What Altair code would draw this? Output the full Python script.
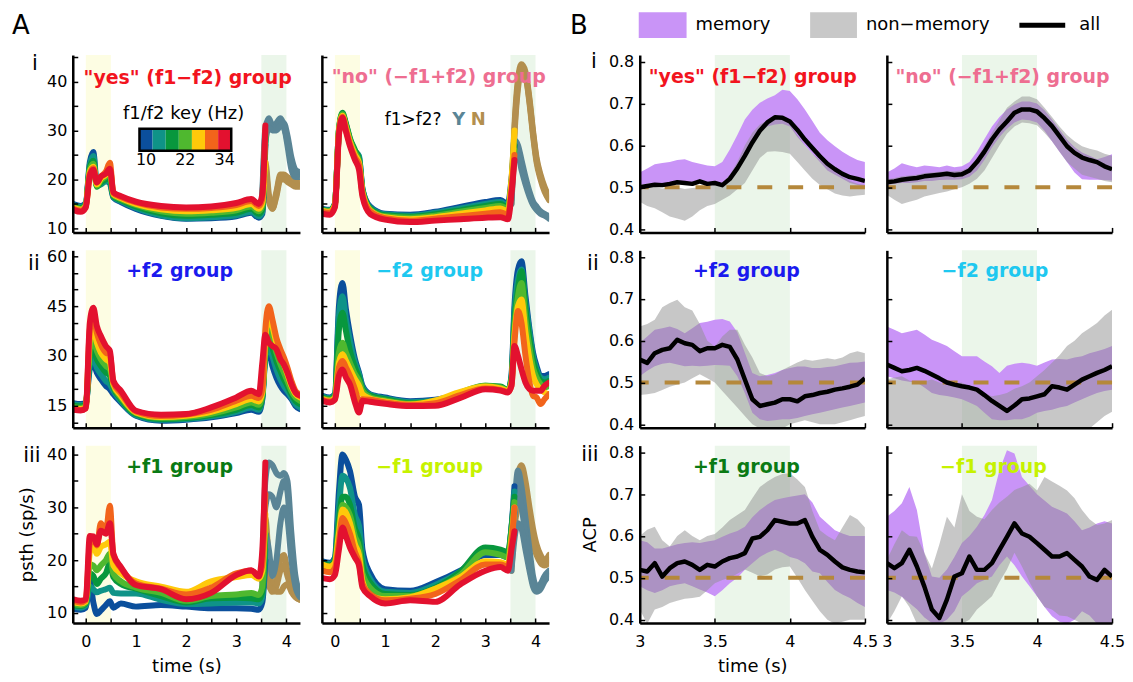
import altair as alt
import pandas as pd

FONT = "DejaVu Sans"
W_A, W_B, H = 228, 226, 178

# ---------------- time grids ----------------
T_PRE = [-0.25, -0.1, 0.0, 0.08, 0.15, 0.22, 0.3, 0.4, 0.48, 0.55, 0.7, 1.0, 1.5, 2.0, 2.5, 3.0, 3.3, 3.45, 3.52]
T_RISE = [3.58]
T_POST = [3.52, 3.58, 3.65, 3.72, 3.8, 3.88, 3.95, 4.02, 4.1, 4.18, 4.27]
T_B = [3.0, 3.05, 3.1, 3.15, 3.2, 3.25, 3.3, 3.35, 3.4, 3.45, 3.5, 3.55, 3.6, 3.65, 3.7, 3.75,
       3.8, 3.85, 3.9, 3.95, 4.0, 4.05, 4.1, 4.15, 4.2, 4.25, 4.3, 4.35, 4.4, 4.45, 4.5]

KEY_HZ = [10, 14, 18, 22, 26, 30, 34]
KEY_LABELS = ["10", "", "", "22", "", "", "34"]
KEY_COLORS = ["#0b4f9c", "#0f9388", "#08973d", "#4fb82f", "#ffc90a", "#f2641b", "#e3112f"]
Y_COLOR = "#5a8596"
N_COLOR = "#b38f4e"

# ---------------- panel A data (psth, sp/s) ----------------
A_YES_KEY = [
    [15.0, 14.6, 15.2, 23.5, 25.6, 19.0, 19.2, 19.8, 19.2, 16.3, 15.4, 14.0, 12.6, 12.0, 12.1, 12.5, 13.2, 12.2, 13.0, 27.0],
    [14.8, 14.4, 15.0, 23.0, 24.8, 18.8, 19.0, 19.6, 19.6, 16.4, 15.6, 14.2, 12.7, 12.1, 12.3, 12.7, 13.4, 12.5, 13.4, 28.0],
    [14.6, 14.2, 14.9, 22.4, 23.8, 18.5, 19.4, 20.0, 20.4, 16.6, 15.8, 14.5, 13.1, 12.6, 12.8, 13.2, 14.0, 13.0, 14.0, 28.5],
    [14.4, 14.0, 14.8, 22.0, 23.2, 18.7, 19.8, 20.6, 21.2, 16.8, 16.0, 14.8, 13.5, 13.0, 13.2, 13.7, 14.5, 13.5, 14.6, 29.0],
    [14.2, 13.8, 14.6, 21.6, 22.6, 19.0, 20.2, 21.0, 22.4, 17.0, 16.2, 15.0, 13.9, 13.5, 13.7, 14.2, 15.0, 14.0, 15.2, 23.5],
    [14.0, 13.6, 14.5, 21.2, 22.3, 19.4, 20.6, 21.6, 23.4, 17.2, 16.4, 15.3, 14.3, 14.0, 14.2, 14.8, 15.6, 14.6, 16.0, 30.0],
    [13.8, 13.4, 14.3, 20.8, 22.0, 19.4, 20.6, 21.2, 22.2, 17.4, 16.6, 15.5, 14.6, 14.3, 14.5, 15.2, 16.0, 15.0, 17.0, 31.0],
]
A_YES_Y = [
    [17.0, 30.5, 32.5, 31.0, 31.5, 32.5, 31.0, 27.0, 22.0, 20.5, 20.5],
    [16.0, 29.0, 31.5, 30.5, 30.5, 31.8, 30.5, 28.0, 23.0, 21.0, 21.0],
    [15.0, 27.5, 30.5, 30.0, 30.0, 31.0, 31.5, 29.0, 24.5, 22.0, 21.5],
]
A_YES_N = [
    [17.0, 23.5, 17.0, 14.0, 17.0, 20.5, 20.5, 20.0, 19.5, 19.0, 19.0],
    [16.0, 22.5, 16.0, 14.5, 17.5, 21.0, 21.0, 20.5, 20.0, 19.5, 19.5],
    [15.0, 21.0, 15.5, 14.0, 16.5, 20.0, 20.0, 19.5, 19.0, 18.5, 18.5],
]

A_NO_KEY = [
    [14.0, 13.8, 15.0, 29.5, 33.0, 31.0, 28.0, 25.5, 24.5, 18.0, 14.5, 13.0, 12.8, 13.4, 14.4, 15.4, 15.8, 15.0, 20.0, 27.0],
    [13.9, 13.7, 15.0, 30.0, 33.3, 31.2, 28.2, 25.8, 24.8, 18.0, 14.3, 12.9, 12.6, 13.2, 14.1, 15.0, 15.4, 14.7, 19.5, 28.0],
    [13.8, 13.6, 15.0, 30.2, 33.6, 31.4, 28.4, 26.0, 24.0, 17.8, 14.1, 12.7, 12.4, 12.9, 13.7, 14.6, 15.0, 14.3, 19.0, 27.0],
    [13.7, 13.5, 14.9, 30.0, 33.3, 31.0, 28.0, 25.5, 23.8, 17.5, 13.9, 12.5, 12.2, 12.6, 13.4, 14.2, 14.6, 14.0, 19.0, 26.0],
    [13.6, 13.4, 14.8, 29.8, 33.0, 30.6, 27.6, 25.0, 23.4, 17.3, 13.7, 12.3, 11.9, 12.3, 13.0, 13.7, 14.1, 13.5, 20.0, 30.0],
    [13.4, 13.2, 14.6, 29.5, 32.8, 30.2, 27.2, 24.5, 23.0, 17.0, 13.5, 12.1, 11.6, 12.0, 12.5, 13.0, 13.3, 12.8, 18.0, 25.0],
    [13.0, 12.8, 14.3, 29.0, 32.6, 29.8, 26.8, 24.0, 22.0, 16.5, 13.0, 11.8, 11.3, 11.6, 11.9, 12.2, 12.3, 11.9, 17.0, 24.0],
]
A_NO_Y = [
    [17.0, 28.0, 27.0, 24.0, 20.5, 17.5, 15.5, 14.5, 13.5, 13.0, 12.5],
    [16.0, 26.0, 25.5, 23.0, 19.5, 17.0, 15.0, 14.0, 13.2, 12.8, 12.3],
    [15.0, 24.0, 25.0, 22.0, 19.0, 16.5, 14.8, 13.8, 13.0, 12.6, 12.0],
]
A_NO_N = [
    [17.0, 31.0, 40.5, 43.5, 42.0, 36.5, 30.0, 24.5, 21.0, 18.5, 16.5],
    [16.0, 30.0, 39.5, 43.0, 41.5, 36.0, 29.5, 24.0, 20.5, 18.0, 16.0],
    [15.0, 29.0, 38.5, 42.0, 41.0, 35.5, 29.0, 23.5, 20.0, 17.5, 15.8],
]

A_PF2_KEY = [
    [15.8, 15.5, 15.8, 26.0, 27.5, 25.0, 23.0, 21.0, 20.0, 18.5, 16.0, 12.0, 10.5, 10.8, 11.5, 12.8, 13.8, 13.2, 17.0, 29.0, 31.0, 27.0, 23.5, 21.0, 19.5, 18.5, 17.0, 15.0, 14.0],
    [15.5, 15.2, 15.6, 27.5, 29.0, 26.5, 24.5, 22.5, 21.5, 19.5, 16.5, 12.2, 10.8, 11.0, 11.8, 13.2, 14.5, 13.8, 17.5, 30.0, 33.0, 30.0, 26.0, 23.0, 21.0, 19.5, 17.5, 15.5, 14.5],
    [15.0, 14.8, 15.3, 30.0, 32.0, 29.0, 27.0, 25.0, 24.0, 20.5, 17.0, 12.5, 11.0, 11.3, 12.2, 13.8, 15.2, 14.5, 18.0, 31.0, 35.0, 32.5, 28.5, 25.5, 23.0, 21.0, 18.5, 16.5, 15.5],
    [14.6, 14.4, 15.0, 32.0, 35.0, 31.5, 29.0, 27.0, 26.0, 21.0, 17.5, 12.8, 11.3, 11.6, 12.6, 14.5, 16.0, 15.3, 18.5, 32.0, 38.0, 35.5, 31.0, 27.5, 25.0, 22.5, 19.5, 17.5, 16.5],
    [14.2, 14.0, 14.6, 35.0, 38.0, 34.0, 31.0, 29.0, 28.0, 21.5, 18.0, 13.0, 11.6, 12.0, 13.2, 15.5, 17.0, 16.3, 19.0, 35.0, 42.0, 39.0, 34.0, 30.5, 27.5, 24.5, 21.0, 18.5, 17.5],
    [13.9, 13.7, 14.3, 38.0, 42.0, 37.0, 33.5, 31.0, 30.5, 22.0, 18.8, 13.3, 11.9, 12.4, 13.8, 16.5, 18.0, 17.3, 20.0, 38.0, 45.0, 41.0, 35.5, 32.0, 29.5, 26.5, 22.5, 19.5, 18.5],
    [13.8, 13.6, 14.2, 40.0, 44.5, 39.0, 36.0, 33.0, 31.5, 22.5, 19.5, 13.5, 12.3, 12.5, 14.5, 17.5, 19.5, 18.5, 28.0, 36.4, 34.0, 33.0, 32.0, 29.0, 27.4, 25.0, 21.5, 19.0, 18.0],
]

A_MF2_KEY = [
    [18.0, 17.5, 18.5, 45.0, 52.0, 44.0, 36.5, 29.0, 25.0, 21.0, 18.5, 17.5, 16.4, 16.8, 18.5, 20.5, 20.5, 19.5, 24.0, 45.0, 56.0, 58.5, 48.0, 38.0, 31.0, 27.0, 24.0, 24.0, 24.5],
    [17.8, 17.3, 18.2, 42.0, 48.0, 41.0, 34.5, 28.0, 24.5, 20.5, 18.3, 17.2, 16.1, 16.5, 18.3, 20.4, 20.4, 19.5, 23.5, 43.0, 53.0, 56.0, 46.0, 37.0, 30.0, 26.0, 23.5, 23.0, 23.5],
    [17.5, 17.0, 18.0, 38.0, 43.0, 37.5, 31.5, 26.5, 23.5, 20.0, 18.0, 17.0, 15.8, 16.3, 18.8, 21.0, 20.8, 19.8, 23.0, 40.0, 50.0, 55.5, 44.0, 35.0, 28.5, 25.0, 22.5, 22.0, 22.5],
    [17.2, 16.8, 17.6, 31.0, 34.0, 31.0, 28.0, 24.5, 22.5, 19.5, 17.6, 16.6, 15.6, 16.4, 19.0, 21.0, 20.5, 19.6, 22.5, 38.0, 48.0, 52.0, 41.0, 32.5, 26.5, 23.5, 21.5, 20.5, 21.0],
    [17.0, 16.5, 17.3, 28.0, 30.5, 28.5, 26.0, 23.0, 21.0, 18.5, 17.2, 16.3, 15.4, 16.6, 19.2, 20.8, 20.2, 19.5, 22.0, 36.0, 45.0, 47.0, 37.0, 29.0, 24.0, 21.5, 20.0, 19.0, 18.5],
    [16.8, 16.3, 17.0, 26.5, 28.5, 26.5, 24.0, 20.0, 16.5, 17.0, 16.8, 16.0, 15.2, 15.8, 18.2, 20.2, 19.8, 19.2, 21.0, 34.0, 43.5, 40.0, 30.0, 22.0, 18.0, 17.5, 15.5, 17.0, 18.5],
    [16.5, 16.0, 16.8, 24.0, 25.9, 23.5, 21.4, 16.0, 13.0, 16.5, 16.2, 15.6, 14.9, 15.0, 17.4, 20.0, 19.6, 19.0, 21.0, 33.0, 30.0, 26.0, 22.0, 20.0, 19.5, 19.5, 19.5, 21.0, 22.0],
]

A_PF1_KEY = [
    [10.8, 10.6, 11.0, 16.0, 12.0, 9.8, 10.5, 11.5, 12.2, 11.0, 11.8, 11.2, 11.5, 11.2, 10.9, 10.9, 10.8, 10.6, 12.0, 20.0],
    [11.2, 11.0, 11.4, 15.0, 14.5, 13.9, 14.2, 14.5, 14.8, 13.8, 13.7, 13.7, 12.5, 11.7, 11.8, 12.0, 12.0, 11.8, 13.0, 22.0],
    [11.5, 11.3, 11.8, 17.5, 17.0, 15.5, 16.5, 17.5, 19.4, 16.8, 15.5, 14.6, 13.2, 12.0, 12.8, 12.9, 12.8, 12.6, 14.0, 25.0],
    [11.7, 11.5, 12.0, 19.2, 19.0, 18.1, 19.0, 20.0, 21.2, 17.5, 16.0, 14.8, 13.8, 12.3, 13.2, 13.5, 13.8, 13.4, 15.0, 27.0],
    [12.0, 11.8, 12.2, 21.5, 23.0, 21.2, 22.5, 23.0, 23.5, 19.0, 17.5, 16.0, 15.0, 14.0, 16.0, 16.8, 17.2, 16.5, 18.0, 28.7],
    [12.3, 12.0, 12.4, 23.0, 24.0, 22.8, 27.0, 25.5, 30.3, 21.0, 18.5, 15.6, 14.6, 13.5, 14.8, 17.5, 18.0, 17.2, 19.0, 32.5],
    [12.6, 12.3, 12.6, 24.6, 24.5, 23.0, 25.6, 25.0, 27.0, 21.2, 18.7, 15.3, 14.5, 12.6, 13.8, 17.2, 18.1, 16.9, 22.0, 38.5],
]
A_PF1_Y = [
    [18.0, 35.0, 38.5, 38.0, 36.5, 36.0, 36.5, 35.0, 25.0, 17.0, 14.0],
    [16.0, 30.0, 32.5, 32.0, 30.0, 33.0, 35.0, 33.0, 22.0, 16.0, 14.0],
    [14.0, 25.0, 22.0, 17.0, 20.0, 27.0, 30.0, 28.0, 20.0, 15.0, 13.0],
]
A_PF1_N = [
    [17.0, 28.0, 20.0, 15.0, 16.0, 20.0, 21.0, 18.0, 15.0, 14.0, 13.0],
    [15.0, 22.0, 16.0, 14.0, 15.0, 18.0, 19.0, 17.0, 14.5, 13.0, 12.5],
    [13.0, 18.0, 15.0, 14.5, 14.0, 14.0, 15.0, 15.5, 14.0, 13.0, 12.5],
]

A_MF1_KEY = [
    [19.8, 19.5, 20.5, 33.0, 40.0, 39.0, 36.9, 32.0, 30.5, 22.0, 17.5, 14.5, 14.2, 15.8, 18.0, 21.0, 21.0, 20.5, 26.0, 34.0],
    [19.6, 19.3, 20.2, 30.0, 36.0, 35.5, 33.7, 28.5, 26.5, 20.5, 16.5, 14.0, 13.8, 15.3, 17.8, 21.5, 21.5, 21.0, 26.0, 33.0],
    [19.3, 19.0, 20.0, 27.5, 32.0, 32.0, 30.5, 26.0, 24.0, 19.0, 15.8, 13.6, 13.4, 14.8, 17.8, 22.4, 22.0, 21.5, 26.0, 32.0],
    [19.0, 18.7, 19.6, 26.0, 30.5, 30.0, 28.5, 24.5, 22.5, 17.5, 14.8, 13.2, 13.2, 14.6, 17.2, 21.5, 21.0, 20.5, 25.0, 31.0],
    [19.2, 18.8, 19.5, 25.0, 29.6, 29.0, 27.0, 23.0, 21.0, 16.0, 13.4, 12.6, 13.0, 14.6, 16.8, 19.8, 19.6, 19.2, 24.0, 30.0],
    [18.0, 17.7, 18.5, 23.5, 28.0, 27.0, 25.0, 21.5, 19.5, 15.5, 13.6, 12.4, 12.7, 13.6, 16.2, 19.2, 19.2, 18.8, 23.0, 30.0],
    [16.6, 16.4, 17.2, 22.0, 26.2, 24.5, 22.4, 20.5, 19.0, 14.8, 13.2, 11.8, 12.4, 12.1, 15.4, 18.0, 18.7, 18.0, 22.0, 25.5],
]
A_MF1_Y = [
    [20.0, 30.0, 37.0, 34.0, 28.0, 22.0, 17.0, 15.0, 15.5, 17.0, 18.0],
    [19.0, 28.0, 33.0, 30.0, 25.0, 19.0, 15.5, 14.5, 15.0, 16.5, 17.5],
    [18.0, 24.0, 27.0, 26.0, 22.0, 18.0, 15.0, 14.0, 14.5, 16.0, 17.0],
]
A_MF1_N = [
    [20.0, 30.0, 36.0, 38.0, 35.0, 30.0, 26.0, 23.0, 21.0, 20.0, 21.0],
    [19.0, 28.0, 33.0, 34.0, 32.0, 28.0, 25.0, 22.0, 20.5, 19.5, 20.0],
    [18.0, 26.0, 30.0, 31.0, 29.0, 26.0, 23.0, 21.0, 19.5, 19.0, 19.5],
]

# ---------------- panel B data (ACP) ----------------
B_YES_ALL = [.500, .503, .506, .505, .508, .512, .510, .508, .514, .508, .510, .505, .520, .545, .575, .607, .635, .655, .667, .666, .657, .637, .614, .594, .574, .556, .543, .532, .524, .520, .515]
B_YES_MEM_HI = [.535, .545, .555, .558, .560, .565, .567, .560, .556, .552, .550, .560, .590, .625, .662, .685, .702, .712, .720, .733, .730, .710, .686, .658, .630, .612, .598, .585, .574, .565, .560]
B_YES_MEM_LO = [.505, .508, .510, .508, .512, .515, .512, .510, .515, .510, .508, .505, .520, .545, .575, .605, .630, .645, .650, .652, .645, .620, .600, .580, .560, .540, .530, .520, .510, .505, .500]
B_YES_NON_HI = [.500, .498, .500, .497, .498, .500, .496, .498, .500, .502, .505, .510, .530, .560, .600, .630, .650, .660, .665, .662, .650, .625, .600, .580, .565, .550, .535, .525, .515, .508, .505]
B_YES_NON_LO = [.465, .455, .450, .440, .430, .425, .420, .430, .445, .455, .460, .470, .480, .495, .510, .540, .570, .585, .586, .584, .580, .560, .540, .520, .505, .495, .485, .480, .478, .480, .482]

B_NO_ALL = [.512, .514, .518, .520, .522, .526, .528, .530, .532, .529, .531, .540, .560, .585, .614, .638, .657, .678, .686, .686, .681, .665, .646, .622, .598, .582, .571, .565, .560, .550, .543]
B_NO_MEM_HI = [.535, .545, .557, .552, .548, .552, .550, .548, .552, .548, .550, .560, .585, .615, .645, .668, .686, .698, .705, .705, .700, .684, .662, .638, .614, .596, .583, .575, .567, .572, .579]
B_NO_MEM_LO = [.505, .508, .510, .510, .512, .515, .515, .517, .518, .518, .519, .525, .540, .565, .595, .620, .640, .655, .662, .660, .655, .635, .610, .585, .560, .535, .519, .518, .518, .517, .516]
B_NO_NON_HI = [.519, .522, .526, .528, .530, .534, .535, .537, .538, .538, .540, .548, .570, .600, .630, .660, .690, .705, .717, .717, .710, .690, .668, .645, .625, .610, .598, .592, .588, .580, .575]
B_NO_NON_LO = [.482, .470, .460, .465, .470, .478, .482, .486, .490, .495, .500, .508, .520, .540, .570, .600, .628, .645, .655, .653, .648, .630, .610, .585, .560, .545, .530, .525, .520, .515, .512]

B_PF2_ALL = [.555, .547, .570, .578, .582, .602, .594, .590, .575, .582, .582, .590, .585, .555, .507, .460, .444, .448, .452, .460, .460, .455, .467, .470, .475, .478, .483, .486, .490, .495, .510]
B_PF2_MEM_HI = [.595, .610, .626, .630, .634, .628, .618, .630, .642, .645, .650, .652, .646, .620, .571, .523, .515, .518, .523, .530, .535, .538, .538, .535, .535, .537, .539, .543, .547, .548, .550]
B_PF2_MEM_LO = [.515, .528, .539, .545, .547, .543, .539, .540, .539, .540, .542, .541, .540, .515, .475, .428, .412, .408, .410, .412, .412, .415, .420, .424, .428, .432, .436, .440, .444, .448, .452]
B_PF2_NON_HI = [.634, .640, .650, .680, .690, .698, .680, .672, .640, .600, .586, .610, .626, .626, .590, .560, .523, .515, .520, .530, .539, .548, .555, .552, .555, .558, .555, .560, .570, .575, .570]
B_PF2_NON_LO = [.470, .472, .475, .482, .490, .495, .500, .510, .520, .510, .500, .480, .460, .440, .420, .400, .390, .385, .385, .390, .400, .405, .410, .405, .400, .400, .400, .405, .410, .415, .420]

B_MF2_ALL = [.543, .535, .527, .530, .535, .528, .519, .510, .500, .495, .491, .488, .483, .470, .456, .444, .432, .445, .460, .462, .467, .472, .491, .488, .483, .495, .507, .515, .523, .530, .539]
B_MF2_MEM_HI = [.634, .626, .618, .622, .626, .615, .602, .595, .587, .575, .563, .563, .563, .550, .539, .523, .540, .545, .547, .545, .540, .548, .555, .556, .555, .560, .563, .570, .575, .580, .587]
B_MF2_MEM_LO = [.515, .510, .505, .502, .500, .488, .475, .470, .468, .464, .460, .452, .444, .428, .412, .410, .410, .412, .412, .418, .428, .432, .435, .440, .444, .452, .460, .468, .475, .480, .483]
B_MF2_NON_HI = [.507, .512, .515, .505, .500, .503, .507, .500, .493, .498, .500, .490, .483, .475, .467, .470, .475, .485, .491, .500, .515, .530, .547, .565, .587, .600, .618, .630, .642, .660, .674]
B_MF2_NON_LO = [.385, .385, .385, .385, .385, .385, .385, .385, .385, .385, .385, .385, .385, .385, .385, .385, .385, .385, .385, .385, .385, .385, .385, .385, .385, .385, .385, .390, .405, .420, .430]

B_PF1_ALL = [.519, .515, .535, .503, .523, .535, .539, .531, .519, .531, .527, .539, .547, .551, .559, .594, .598, .614, .638, .634, .630, .630, .638, .598, .567, .555, .539, .525, .519, .515, .513]
B_PF1_MEM_HI = [.590, .585, .570, .570, .575, .580, .583, .585, .583, .587, .590, .598, .606, .612, .622, .645, .662, .675, .686, .690, .694, .697, .700, .680, .646, .630, .614, .606, .600, .600, .600]
B_PF1_MEM_LO = [.480, .470, .464, .470, .480, .484, .487, .480, .472, .465, .456, .470, .487, .500, .519, .535, .550, .560, .567, .560, .550, .545, .535, .515, .511, .490, .471, .460, .452, .440, .430]
B_PF1_NON_HI = [.600, .615, .622, .590, .575, .600, .614, .600, .590, .600, .605, .620, .638, .650, .662, .690, .717, .730, .741, .748, .750, .735, .717, .660, .614, .600, .590, .620, .650, .640, .620]
B_PF1_NON_LO = [.424, .390, .424, .430, .440, .445, .450, .452, .455, .470, .487, .495, .500, .510, .520, .512, .504, .508, .520, .525, .527, .500, .471, .445, .420, .400, .390, .395, .400, .400, .400]

B_MF1_ALL = [.535, .523, .535, .567, .527, .479, .424, .404, .448, .503, .511, .551, .519, .519, .535, .567, .598, .630, .606, .598, .583, .567, .551, .551, .559, .543, .527, .503, .495, .519, .503]
B_MF1_MEM_HI = [.646, .660, .678, .717, .662, .559, .503, .500, .520, .550, .583, .600, .622, .650, .686, .757, .805, .797, .741, .720, .700, .685, .670, .662, .654, .635, .614, .620, .630, .635, .630]
B_MF1_MEM_LO = [.471, .465, .455, .440, .425, .405, .392, .390, .400, .420, .456, .470, .487, .495, .503, .530, .551, .530, .503, .480, .456, .430, .408, .395, .390, .400, .420, .410, .390, .390, .390]
B_MF1_NON_HI = [.543, .580, .614, .600, .598, .560, .522, .580, .646, .620, .700, .660, .646, .640, .662, .680, .694, .710, .717, .725, .709, .741, .730, .720, .709, .690, .662, .640, .626, .630, .638]
B_MF1_NON_LO = [.390, .420, .456, .430, .390, .390, .390, .390, .390, .390, .390, .400, .424, .440, .456, .490, .520, .560, .527, .490, .456, .430, .424, .410, .408, .400, .390, .390, .390, .390, .390]

# ---------------- styling ----------------
YELLOW_BAND = "#fdfde3"
GREEN_BAND = "#ebf6ea"
PURPLE = "#c994f7"
GREY = "#8f8f8f"
DASH = "#b5883b"

XA_DOM = [-0.26, 4.27]
YA_DOM = {1: [9.2, 45.4], 2: [8.4, 61.8], 3: [8.1, 41.7]}
YA_LAB = {1: [10, 20, 30, 40], 2: [15, 30, 45, 60], 3: [10, 20, 30, 40]}
YA_TICK = {1: [10, 15, 20, 25, 30, 35, 40, 45], 2: [10, 15, 20, 25, 30, 35, 40, 45, 50, 55, 60],
           3: [10, 15, 20, 25, 30, 35, 40]}
XA_LAB = [0, 1, 2, 3, 4]
XA_TICK = [0, 0.5, 1, 1.5, 2, 2.5, 3, 3.5, 4]
XB_DOM = [3.0, 4.5]
YB_DOM = [0.392, 0.816]
XB_LAB = [3, 3.5, 4, 4.5]
YB_LAB = [0.4, 0.5, 0.6, 0.7, 0.8]


def axes_layers(xs, ys, xdom, ydom, W, xlab, xtick, ylab, ytick, show_x, show_y,
                xtitle=None, ytitle=None, xfmt=None, yfmt=None, ytpad=10):
    d = pd.DataFrame({"t": [xdom[0]], "v": [ydom[0]]})
    xa = dict(values=xlab, labels=show_x, orient="bottom", labelPadding=11, titlePadding=8,
              zindex=1, title=xtitle)
    if xfmt:
        xa["format"] = xfmt
    ya = dict(values=ylab, labels=show_y, orient="left", labelPadding=6, titlePadding=ytpad,
              zindex=1, title=ytitle)
    if yfmt:
        ya["format"] = yfmt
    main = alt.Chart(d).mark_point(opacity=0).encode(
        x=alt.X("t:Q", scale=xs, axis=alt.Axis(**xa)),
        y=alt.Y("v:Q", scale=ys, axis=alt.Axis(**ya)))
    tk = alt.Chart(d).mark_point(opacity=0).encode(
        x=alt.X("t:Q", scale=xs, axis=alt.Axis(values=xtick, orient="top", offset=-H, labels=False,
                                                domain=False, ticks=True, tickSize=5, title=None, zindex=1)),
        y=alt.Y("v:Q", scale=ys, axis=alt.Axis(values=ytick, orient="right", offset=-W, labels=False,
                                                domain=False, ticks=True, tickSize=5, title=None, zindex=1)))
    return [main, tk]


def lines_df(rows, tgrid, colors, prefix):
    recs = []
    for i, row in enumerate(rows):
        for t, v in zip(tgrid, row):
            recs.append({"t": t, "v": v, "s": f"{prefix}{i}", "c": colors[i]})
    return pd.DataFrame(recs)


def line_layer(df, xs, ys, width=6):
    return alt.Chart(df).mark_line(strokeWidth=width, interpolate="monotone", strokeCap="round",
                                   strokeJoin="round", clip=True).encode(
        x=alt.X("t:Q", scale=xs, axis=None),
        y=alt.Y("v:Q", scale=ys, axis=None),
        color=alt.Color("c:N", scale=None),
        detail="s:N")


def data_text(xs, ys, t, v, label, color, size=19, weight="bold", align="center"):
    return alt.Chart(pd.DataFrame({"t": [t], "v": [v], "lab": [label]})).mark_text(
        color=color, fontSize=size, fontWeight=weight, font=FONT, align=align, baseline="middle").encode(
        x=alt.X("t:Q", scale=xs, axis=None), y=alt.Y("v:Q", scale=ys, axis=None), text="lab:N")


def pix_text(x, y, label, size, weight="normal", align="center", color="black"):
    return alt.Chart(pd.DataFrame({"lab": [label]})).mark_text(
        color=color, fontSize=size, fontWeight=weight, font=FONT, align=align, baseline="middle").encode(
        x=alt.value(x), y=alt.value(y), text="lab:N")


def a_panel(row, col, key_rows, key_t, y_rows, n_rows, title, tcolor, tpos, extra=None,
            show_x=False, xtitle=None, ytitle=None):
    xs = alt.Scale(domain=XA_DOM, nice=False, zero=False)
    ys = alt.Scale(domain=YA_DOM[row], nice=False, zero=False)
    bands = pd.DataFrame({"x0": [0.0, 3.5], "x1": [0.5, 4.0], "c": [YELLOW_BAND, GREEN_BAND]})
    layers = [alt.Chart(bands).mark_rect().encode(
        x=alt.X("x0:Q", scale=xs, axis=None), x2="x1:Q", color=alt.Color("c:N", scale=None))]
    if y_rows:
        post = pd.concat([lines_df(n_rows, T_POST, [N_COLOR] * 3, "n"),
                          lines_df(y_rows, T_POST, [Y_COLOR] * 3, "y")])
        layers.append(line_layer(post, xs, ys))
    layers.append(line_layer(lines_df(key_rows, key_t, KEY_COLORS, "k"), xs, ys))
    layers.append(data_text(xs, ys, tpos[0], tpos[1], title, tcolor))
    if extra:
        layers += extra(xs, ys)
    layers += axes_layers(xs, ys, XA_DOM, YA_DOM[row], W_A, XA_LAB, XA_TICK, YA_LAB[row], YA_TICK[row],
                          show_x, col == 1, xtitle=xtitle, ytitle=ytitle, ytpad=10)
    return alt.layer(*layers).resolve_axis(x="independent", y="independent").properties(width=W_A, height=H)


def b_panel(col, all_, mlo, mhi, nlo, nhi, title, tcolor, tpos, extra=None,
            show_x=False, xtitle=None, ytitle=None):
    xs = alt.Scale(domain=XB_DOM, nice=False, zero=False)
    ys = alt.Scale(domain=YB_DOM, nice=False, zero=False)
    layers = [alt.Chart(pd.DataFrame({"x0": [3.5], "x1": [4.0]})).mark_rect(color=GREEN_BAND).encode(
        x=alt.X("x0:Q", scale=xs, axis=None), x2="x1:Q")]
    mem = pd.DataFrame({"t": T_B, "lo": mlo, "hi": mhi})
    non = pd.DataFrame({"t": T_B, "lo": nlo, "hi": nhi})
    layers.append(alt.Chart(mem).mark_area(color=PURPLE, clip=True).encode(
        x=alt.X("t:Q", scale=xs, axis=None), y=alt.Y("lo:Q", scale=ys, axis=None), y2="hi:Q"))
    layers.append(alt.Chart(non).mark_area(color=GREY, opacity=0.5, clip=True).encode(
        x=alt.X("t:Q", scale=xs, axis=None), y=alt.Y("lo:Q", scale=ys, axis=None), y2="hi:Q"))
    layers.append(alt.Chart(pd.DataFrame({"v": [0.5]})).mark_rule(
        color=DASH, strokeWidth=4, strokeDash=[15, 16]).encode(y=alt.Y("v:Q", scale=ys, axis=None)))
    layers.append(alt.Chart(pd.DataFrame({"t": T_B, "v": all_})).mark_line(
        color="black", strokeWidth=4.5, strokeJoin="round", clip=True).encode(
        x=alt.X("t:Q", scale=xs, axis=None), y=alt.Y("v:Q", scale=ys, axis=None)))
    layers.append(data_text(xs, ys, tpos[0], tpos[1], title, tcolor))
    if extra:
        layers += extra(xs, ys)
    layers += axes_layers(xs, ys, XB_DOM, YB_DOM, W_B, XB_LAB, XB_LAB, YB_LAB, YB_LAB,
                          show_x, col == 3, xtitle=xtitle, ytitle=ytitle, xfmt="~g", yfmt=".1f", ytpad=9)
    return alt.layer(*layers).resolve_axis(x="independent", y="independent").properties(width=W_B, height=H)


# ---------- extras ----------
def extra_a_yes(xs, ys):
    cb_t0, cb_dt, cb_v0, cb_v1 = 1.07, 0.2614, 25.86, 30.35
    cb = pd.DataFrame({"x0": [cb_t0 + i * cb_dt for i in range(len(KEY_HZ))],
                       "x1": [cb_t0 + (i + 1) * cb_dt for i in range(len(KEY_HZ))],
                       "y0": [cb_v0] * len(KEY_HZ), "y1": [cb_v1] * len(KEY_HZ),
                       "c": KEY_COLORS, "lab": KEY_LABELS,
                       "xm": [cb_t0 + (i + 0.5) * cb_dt for i in range(len(KEY_HZ))],
                       "yl": [23.9] * len(KEY_HZ)})
    enc = dict(x=alt.X("x0:Q", scale=xs, axis=None), x2="x1:Q",
               y=alt.Y("y0:Q", scale=ys, axis=None), y2="y1:Q")
    cells = alt.Chart(cb).mark_rect().encode(color=alt.Color("c:N", scale=None), **enc)
    frame = alt.Chart(pd.DataFrame({"x0": [cb_t0], "x1": [cb_t0 + 7 * cb_dt], "y0": [cb_v0], "y1": [cb_v1]})).mark_rect(
        fillOpacity=0, stroke="black", strokeWidth=2.5).encode(**enc)
    labs = alt.Chart(cb).mark_text(fontSize=16, font=FONT, color="black", baseline="middle").encode(
        x=alt.X("xm:Q", scale=xs, axis=None), y=alt.Y("yl:Q", scale=ys, axis=None), text="lab:N")
    return [cells, frame, labs,
            data_text(xs, ys, 1.95, 33.4, "f1/f2 key (Hz)", "black", size=18, weight="normal"),
            pix_text(-52, -29, "A", 26),
            pix_text(-38, 9, "i", 21)]


def extra_a_no(xs, ys):
    return [data_text(xs, ys, 1.56, 32.2, "f1>f2?", "black", size=17, weight="normal"),
            data_text(xs, ys, 2.47, 32.2, "Y", Y_COLOR, size=18),
            data_text(xs, ys, 2.86, 32.2, "N", N_COLOR, size=18)]


def extra_a_ii(xs, ys):
    return [pix_text(-39, 14, "ii", 21)]


def extra_a_iii(xs, ys):
    return [pix_text(-41, 10, "iii", 21)]


def extra_b_i(xs, ys):
    one = pd.DataFrame({"a": [0]})
    mem_patch = alt.Chart(one).mark_rect(color=PURPLE).encode(
        x=alt.value(-1), x2=alt.value(47), y=alt.value(-43), y2=alt.value(-17))
    non_patch = alt.Chart(one).mark_rect(color="#c8c8c8").encode(
        x=alt.value(171), x2=alt.value(218), y=alt.value(-43), y2=alt.value(-17))
    all_line = alt.Chart(one).mark_rule(color="black", strokeWidth=5).encode(
        x=alt.value(381), x2=alt.value(427), y=alt.value(-30))
    return [mem_patch, non_patch, all_line,
            pix_text(56, -30, "memory", 18, align="left"),
            pix_text(227, -30, "non\u2212memory", 18, align="left"),
            pix_text(441, -30, "all", 18, align="left"),
            pix_text(-61, -29, "B", 26),
            pix_text(-46, 7, "i", 21)]


def extra_b_ii(xs, ys):
    return [pix_text(-47, 14, "ii", 21)]


def extra_b_iii(xs, ys):
    return [pix_text(-50, 9, "iii", 21)]


def spacer():
    return alt.Chart(pd.DataFrame({"a": [0]})).mark_point(opacity=0).encode(
        x=alt.value(0), y=alt.value(0)).properties(width=47, height=H)


KT13 = T_PRE + T_RISE
KT2 = T_PRE + T_POST[1:]
MINUS = "\u2212"

a11 = a_panel(1, 1, A_YES_KEY, KT13, A_YES_Y, A_YES_N, '"yes" (f1' + MINUS + 'f2) group', "#f2141e",
              (2.03, 40.75), extra=extra_a_yes)
a12 = a_panel(1, 2, A_NO_KEY, KT13, A_NO_Y, A_NO_N, '"no" (' + MINUS + 'f1+f2) group', "#ee6e91",
              (2.07, 40.9), extra=extra_a_no)
a21 = a_panel(2, 1, A_PF2_KEY, KT2, None, None, "+f2 group", "#1a1aee", (1.87, 55.5), extra=extra_a_ii)
a22 = a_panel(2, 2, A_MF2_KEY, KT2, None, None, MINUS + "f2 group", "#1ec8f0", (1.89, 55.5))
a31 = a_panel(3, 1, A_PF1_KEY, KT13, A_PF1_Y, A_PF1_N, "+f1 group", "#0a7a14", (1.87, 37.7),
              extra=extra_a_iii, show_x=True, xtitle="time (s)", ytitle="psth (sp/s)")
a32 = a_panel(3, 2, A_MF1_KEY, KT13, A_MF1_Y, A_MF1_N, MINUS + "f1 group", "#c6f200", (1.89, 37.7),
              show_x=True)

b11 = b_panel(3, B_YES_ALL, B_YES_MEM_LO, B_YES_MEM_HI, B_YES_NON_LO, B_YES_NON_HI,
              '"yes" (f1' + MINUS + 'f2) group', "#f2141e", (3.753, 0.764), extra=extra_b_i)
b12 = b_panel(4, B_NO_ALL, B_NO_MEM_LO, B_NO_MEM_HI, B_NO_NON_LO, B_NO_NON_HI,
              '"no" (' + MINUS + 'f1+f2) group', "#ee6e91", (3.77, 0.764))
b21 = b_panel(3, B_PF2_ALL, B_PF2_MEM_LO, B_PF2_MEM_HI, B_PF2_NON_LO, B_PF2_NON_HI,
              "+f2 group", "#1a1aee", (3.71, 0.766), extra=extra_b_ii)
b22 = b_panel(4, B_MF2_ALL, B_MF2_MEM_LO, B_MF2_MEM_HI, B_MF2_NON_LO, B_MF2_NON_HI,
              MINUS + "f2 group", "#1ec8f0", (3.72, 0.766))
b31 = b_panel(3, B_PF1_ALL, B_PF1_MEM_LO, B_PF1_MEM_HI, B_PF1_NON_LO, B_PF1_NON_HI,
              "+f1 group", "#0a7a14", (3.71, 0.766), extra=extra_b_iii, show_x=True,
              xtitle="time (s)", ytitle="ACP")
b32 = b_panel(4, B_MF1_ALL, B_MF1_MEM_LO, B_MF1_MEM_HI, B_MF1_NON_LO, B_MF1_NON_HI,
              MINUS + "f1 group", "#c6f200", (3.71, 0.766), show_x=True)

cells = [a11, a12, spacer(), b11, b12,
         a21, a22, spacer(), b21, b22,
         a31, a32, spacer(), b31, b32]

chart = alt.concat(*cells, columns=5, spacing={"row": 18, "column": 22}, bounds="flush").properties(
    padding={"left": 4, "top": 3, "right": 0, "bottom": 0}
).configure_view(stroke=None).configure_axis(
    labelFont=FONT, titleFont=FONT, labelFontSize=16, titleFontSize=18, titleFontWeight="normal",
    labelColor="black", titleColor="black", domainColor="black", domainWidth=2.5,
    tickColor="black", tickWidth=1.5, grid=False, ticks=False, labelFlush=False, labelOverlap=False
)

chart.save("out.html", embed_options={"renderer": "svg", "actions": False})
